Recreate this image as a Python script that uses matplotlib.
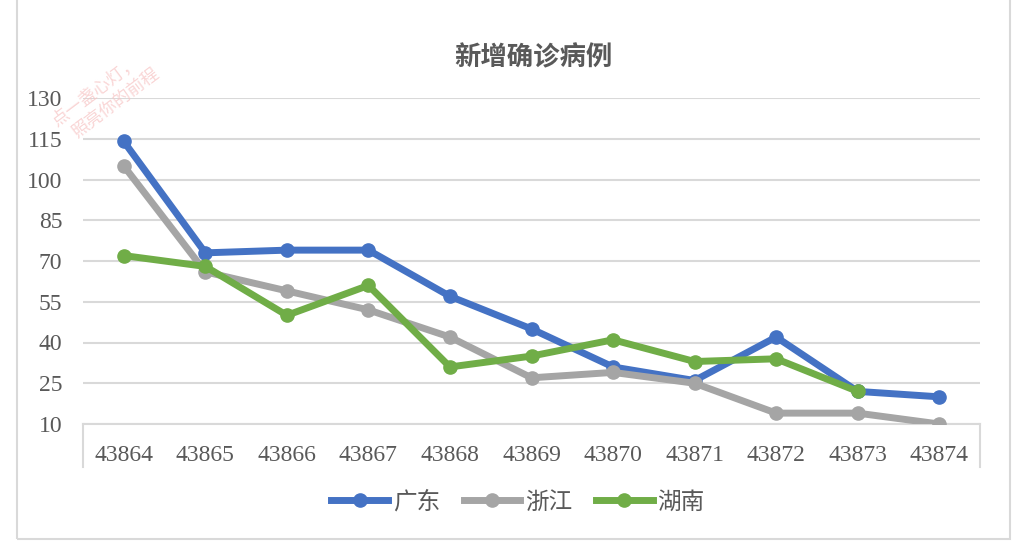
import matplotlib.pyplot as plt
from matplotlib.patches import Rectangle
from matplotlib.lines import Line2D

# datos
dias = ['43864', '43865', '43866', '43867', '43868', '43869',
        '43870', '43871', '43872', '43873', '43874']
guangdong = [114, 73, 74, 74, 57, 45, 31, 26, 42, 22, 20]
zhejiang = [105, 66, 59, 52, 42, 27, 29, 25, 14, 14, 10]
hunan = [72, 68, 50, 61, 31, 35, 41, 33, 34, 22]
series = ['广东', '浙江', '湖南']
colores = ['#4472C4', '#A5A5A5', '#70AD47']
yticks = [10, 25, 40, 55, 70, 85, 100, 115, 130]

W, H = 1018, 548
fig = plt.figure(figsize=(W / 100, H / 100), dpi=100)
ax = fig.add_axes([83 / W, 1 - 424 / H, (980 - 83) / W, (424 - 98) / H])

cjk = ['Noto Sans CJK SC', 'DejaVu Sans']
serif = 'Liberation Serif'

# borde del grafico
fig.patches.append(Rectangle((17 / W, 1 - 539 / H), (1010 - 17) / W, 545 / H,
                             transform=fig.transFigure, fill=False,
                             edgecolor='#D9D9D9', linewidth=1.5))

for i, (vals, c, nom) in enumerate(zip([guangdong, zhejiang, hunan], colores, series)):
    ax.plot(range(len(vals)), vals, color=c, linewidth=5, marker='o',
            markersize=9.5, label=nom, zorder=3 + (i == 2))

ax.set_xlim(-0.5, len(dias) - 0.5)
ax.set_ylim(10, 130)
ax.set_yticks(yticks)
ax.set_xticks(range(len(dias)))
ax.set_xticklabels(dias)
ax.grid(axis='y', color='#D9D9D9', linewidth=1.5)
ax.set_axisbelow(True)
for s in ['top', 'right', 'left']:
    ax.spines[s].set_visible(False)
ax.spines['bottom'].set_color('#D9D9D9')
ax.spines['bottom'].set_linewidth(1.5)
ax.tick_params(length=0, colors='#595959', labelsize=17)
ax.tick_params(axis='y', pad=15)
ax.tick_params(axis='x', pad=15)
for lab in ax.get_xticklabels() + ax.get_yticklabels():
    lab.set_fontfamily(serif)

# lineas verticales del eje de categorias
for xp in [83, 980]:
    fig.add_artist(Line2D([xp / W, xp / W], [1 - 424 / H, 1 - 467 / H],
                          color='#D9D9D9', linewidth=1.5))

fig.text(533 / W, 1 - 58 / H, '新增确诊病例', ha='center', va='center',
         fontsize=19, fontweight='bold', color='#595959', family=cjk)

leg = fig.legend(loc='center', bbox_to_anchor=(518 / W, 1 - 502 / H), ncol=3,
                 frameon=False, prop={'family': cjk, 'size': 17},
                 handlelength=2.4, columnspacing=1.0, handletextpad=0.2)
for t in leg.get_texts():
    t.set_color('#595959')

# marca de agua
fig.text(95 / W, 1 - 91 / H, '点一盏心灯，', rotation=37, ha='center', va='center',
         fontsize=12.5, color='#F7C4C4', family=cjk, alpha=0.7)
fig.text(116 / W, 1 - 104 / H, '照亮你的前程', rotation=37, ha='center', va='center',
         fontsize=12.5, color='#F7C4C4', family=cjk, alpha=0.7)

fig.savefig('out.png', dpi=100)
